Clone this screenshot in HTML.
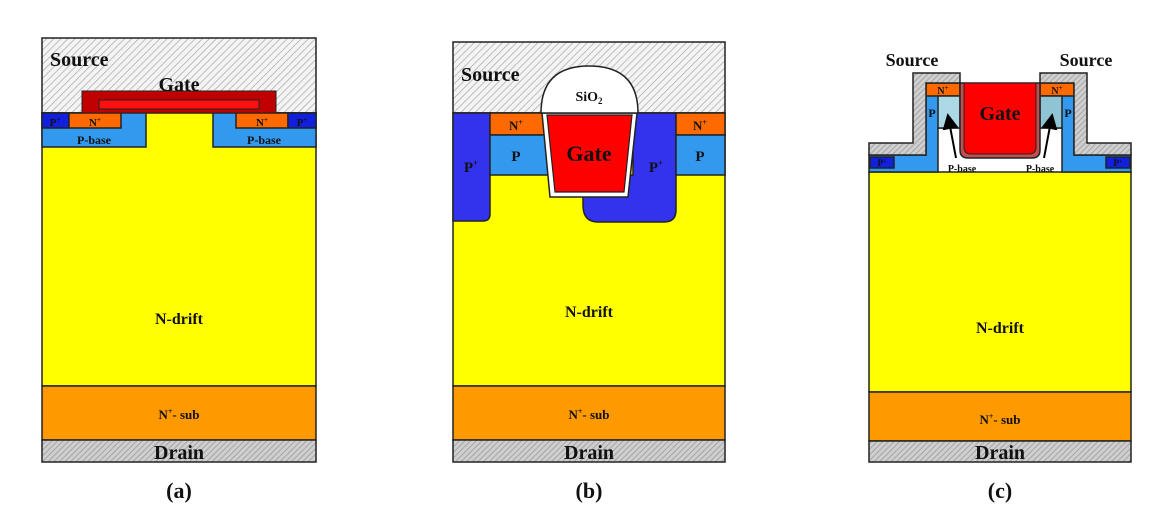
<!DOCTYPE html>
<html><head><meta charset="utf-8"><style>
html,body{margin:0;padding:0;background:#fff;}
svg{display:block;}
text{font-family:"Liberation Serif",serif;font-weight:bold;fill:#111;}
</style></head><body>
<svg width="1168" height="518" viewBox="0 0 1168 518" xmlns="http://www.w3.org/2000/svg">
<defs>
<pattern id="h" patternUnits="userSpaceOnUse" width="5" height="5" patternTransform="rotate(45)">
<rect width="5" height="5" fill="#f4f4f4"/><line x1="0" y1="0" x2="0" y2="5" stroke="#b0b0b0" stroke-width="1.6"/></pattern>
<pattern id="hd" patternUnits="userSpaceOnUse" width="4" height="4" patternTransform="rotate(45)">
<rect width="4" height="4" fill="#cfcfcf"/><line x1="0" y1="0" x2="0" y2="4" stroke="#9a9a9a" stroke-width="1.6"/></pattern>
<marker id="ar" markerWidth="8" markerHeight="8" refX="4" refY="4" orient="auto"><path d="M0,0 L8,4 L0,8 z" fill="#000"/></marker>
</defs>
<g stroke="#222" stroke-width="1.5">
<!-- (a) -->
<rect x="42" y="38" width="274" height="75" fill="url(#h)"/>
<rect x="42" y="113" width="274" height="273" fill="#ffff00"/>
<rect x="42" y="113" width="104" height="34" fill="#3399ee"/>
<rect x="213" y="113" width="103" height="34" fill="#3399ee"/>
<rect x="42" y="113" width="27" height="15" fill="#1020dd"/>
<rect x="69" y="113" width="52" height="15" fill="#ff6a00"/>
<rect x="236" y="113" width="52" height="15" fill="#ff6a00"/>
<rect x="288" y="113" width="28" height="15" fill="#1020dd"/>
<rect x="82" y="91" width="194" height="22" fill="#c00000" stroke-width="1"/>
<rect x="99" y="100" width="160" height="9" fill="#ff1010" stroke-width="1"/>
<rect x="42" y="386" width="274" height="54" fill="#ff9900"/>
<rect x="42" y="440" width="274" height="22" fill="url(#hd)"/>
<!-- (b) -->
<rect x="453" y="42" width="272" height="71" fill="url(#h)"/>
<rect x="453" y="113" width="272" height="273" fill="#ffff00"/>
<path d="M453,113 H490 V214 Q490,221 483,221 H453 Z" fill="#3333ee"/>
<path d="M633,113 H676 V210 Q676,222 664,222 H598 Q583,222 583,205 V175 H633 Z" fill="#3333ee"/>
<rect x="490" y="113" width="56" height="22" fill="#ff6a00"/>
<rect x="490" y="135" width="58" height="40" fill="#3399ee"/>
<rect x="676" y="113" width="49" height="22" fill="#ff6a00"/>
<rect x="676" y="135" width="49" height="40" fill="#3399ee"/>
<path d="M542,113 H637 L628,197 H550 Z" fill="#fff"/>
<path d="M547,115 H632 L624,192 H555 Z" fill="#ff0000" stroke-width="1.2"/>
<path d="M541,113 Q541,66 589,66 Q638,66 638,113 Z" fill="#fff"/>
<rect x="453" y="386" width="272" height="54" fill="#ff9900"/>
<rect x="453" y="440" width="272" height="22" fill="url(#hd)"/>
<!-- (c) -->
<rect x="869" y="172" width="262" height="220" fill="#ffff00"/>
<path d="M869,155 H926 V83 H960 V128 H938 V172 H869 Z" fill="#3399ee"/>
<path d="M1131,155 H1074 V83 H1040 V128 H1062 V172 H1131 Z" fill="#3399ee"/>
<rect x="926" y="83" width="34" height="13" fill="#ff6a00"/>
<rect x="1040" y="83" width="34" height="13" fill="#ff6a00"/>
<rect x="938" y="96" width="22" height="32" fill="#add8e6"/>
<rect x="1040" y="96" width="22" height="32" fill="#8fc4d4"/>
<path d="M869,143 H913 V73 H960 V83 H926 V155 H869 Z" fill="url(#hd)"/>
<path d="M1131,143 H1087 V73 H1040 V83 H1074 V155 H1131 Z" fill="url(#hd)"/>
<path d="M960,83 H1040 V150 Q1040,158 1032,158 H968 Q960,158 960,150 Z" fill="#c05050"/>
<path d="M964,83 H1036 V147 Q1036,154 1029,154 H971 Q964,154 964,147 Z" fill="#ff0000" stroke-width="1"/>
<rect x="870" y="157" width="24" height="11" fill="#1020dd"/>
<rect x="1106" y="157" width="24" height="11" fill="#1020dd"/>
<rect x="869" y="392" width="262" height="49" fill="#ff9900"/>
<rect x="869" y="441" width="262" height="21" fill="url(#hd)"/>
</g>
<g stroke="#000" stroke-width="2" fill="none">
<line x1="956" y1="158" x2="949" y2="121" marker-end="url(#ar)"/>
<line x1="1044" y1="158" x2="1051" y2="121" marker-end="url(#ar)"/>
</g>
<!-- labels (a) -->
<text x="50" y="66" font-size="20">Source</text>
<text x="179" y="91" font-size="20" text-anchor="middle">Gate</text>
<text x="55" y="126" font-size="11" text-anchor="middle">P<tspan font-size="7" dy="-4">+</tspan></text>
<text x="95" y="126" font-size="11" text-anchor="middle">N<tspan font-size="7" dy="-4">+</tspan></text>
<text x="262" y="126" font-size="11" text-anchor="middle">N<tspan font-size="7" dy="-4">+</tspan></text>
<text x="302" y="126" font-size="11" text-anchor="middle">P<tspan font-size="7" dy="-4">+</tspan></text>
<text x="94" y="144" font-size="12" text-anchor="middle">P-base</text>
<text x="264" y="144" font-size="12" text-anchor="middle">P-base</text>
<text x="179" y="324" font-size="16" text-anchor="middle">N-drift</text>
<text x="179" y="419" font-size="13" text-anchor="middle">N<tspan font-size="8" dy="-5">+</tspan><tspan dy="5">- sub</tspan></text>
<text x="179" y="459" font-size="20" text-anchor="middle">Drain</text>
<text x="179" y="498" font-size="22" text-anchor="middle">(a)</text>
<!-- (b) -->
<text x="461" y="81" font-size="20">Source</text>
<text x="589" y="101" font-size="14" text-anchor="middle">SiO<tspan font-size="9" dy="3">2</tspan></text>
<text x="516" y="130" font-size="13" text-anchor="middle">N<tspan font-size="8" dy="-5">+</tspan></text>
<text x="700" y="130" font-size="13" text-anchor="middle">N<tspan font-size="8" dy="-5">+</tspan></text>
<text x="516" y="161" font-size="15" text-anchor="middle">P</text>
<text x="700" y="161" font-size="15" text-anchor="middle">P</text>
<text x="471" y="172" font-size="15" text-anchor="middle">P<tspan font-size="9" dy="-6">+</tspan></text>
<text x="656" y="172" font-size="15" text-anchor="middle">P<tspan font-size="9" dy="-6">+</tspan></text>
<text x="589" y="161" font-size="22" text-anchor="middle">Gate</text>
<text x="589" y="317" font-size="16" text-anchor="middle">N-drift</text>
<text x="589" y="419" font-size="13" text-anchor="middle">N<tspan font-size="8" dy="-5">+</tspan><tspan dy="5">- sub</tspan></text>
<text x="589" y="459" font-size="20" text-anchor="middle">Drain</text>
<text x="589" y="498" font-size="22" text-anchor="middle">(b)</text>
<!-- (c) -->
<text x="912" y="66" font-size="18" text-anchor="middle">Source</text>
<text x="1086" y="66" font-size="18" text-anchor="middle">Source</text>
<text x="943" y="94" font-size="10" text-anchor="middle">N<tspan font-size="7" dy="-4">+</tspan></text>
<text x="1057" y="94" font-size="10" text-anchor="middle">N<tspan font-size="7" dy="-4">+</tspan></text>
<text x="932" y="117" font-size="12" text-anchor="middle">P</text>
<text x="1068" y="117" font-size="12" text-anchor="middle">P</text>
<text x="882" y="166" font-size="9" text-anchor="middle">P<tspan font-size="6" dy="-3">+</tspan></text>
<text x="1118" y="166" font-size="9" text-anchor="middle">P<tspan font-size="6" dy="-3">+</tspan></text>
<text x="1000" y="120" font-size="20" text-anchor="middle">Gate</text>
<text x="962" y="172" font-size="10" text-anchor="middle">P-base</text>
<text x="1040" y="172" font-size="10" text-anchor="middle">P-base</text>
<text x="1000" y="333" font-size="16" text-anchor="middle">N-drift</text>
<text x="1000" y="424" font-size="13" text-anchor="middle">N<tspan font-size="8" dy="-5">+</tspan><tspan dy="5">- sub</tspan></text>
<text x="1000" y="459" font-size="20" text-anchor="middle">Drain</text>
<text x="1000" y="498" font-size="22" text-anchor="middle">(c)</text>
</svg>
</body></html>
